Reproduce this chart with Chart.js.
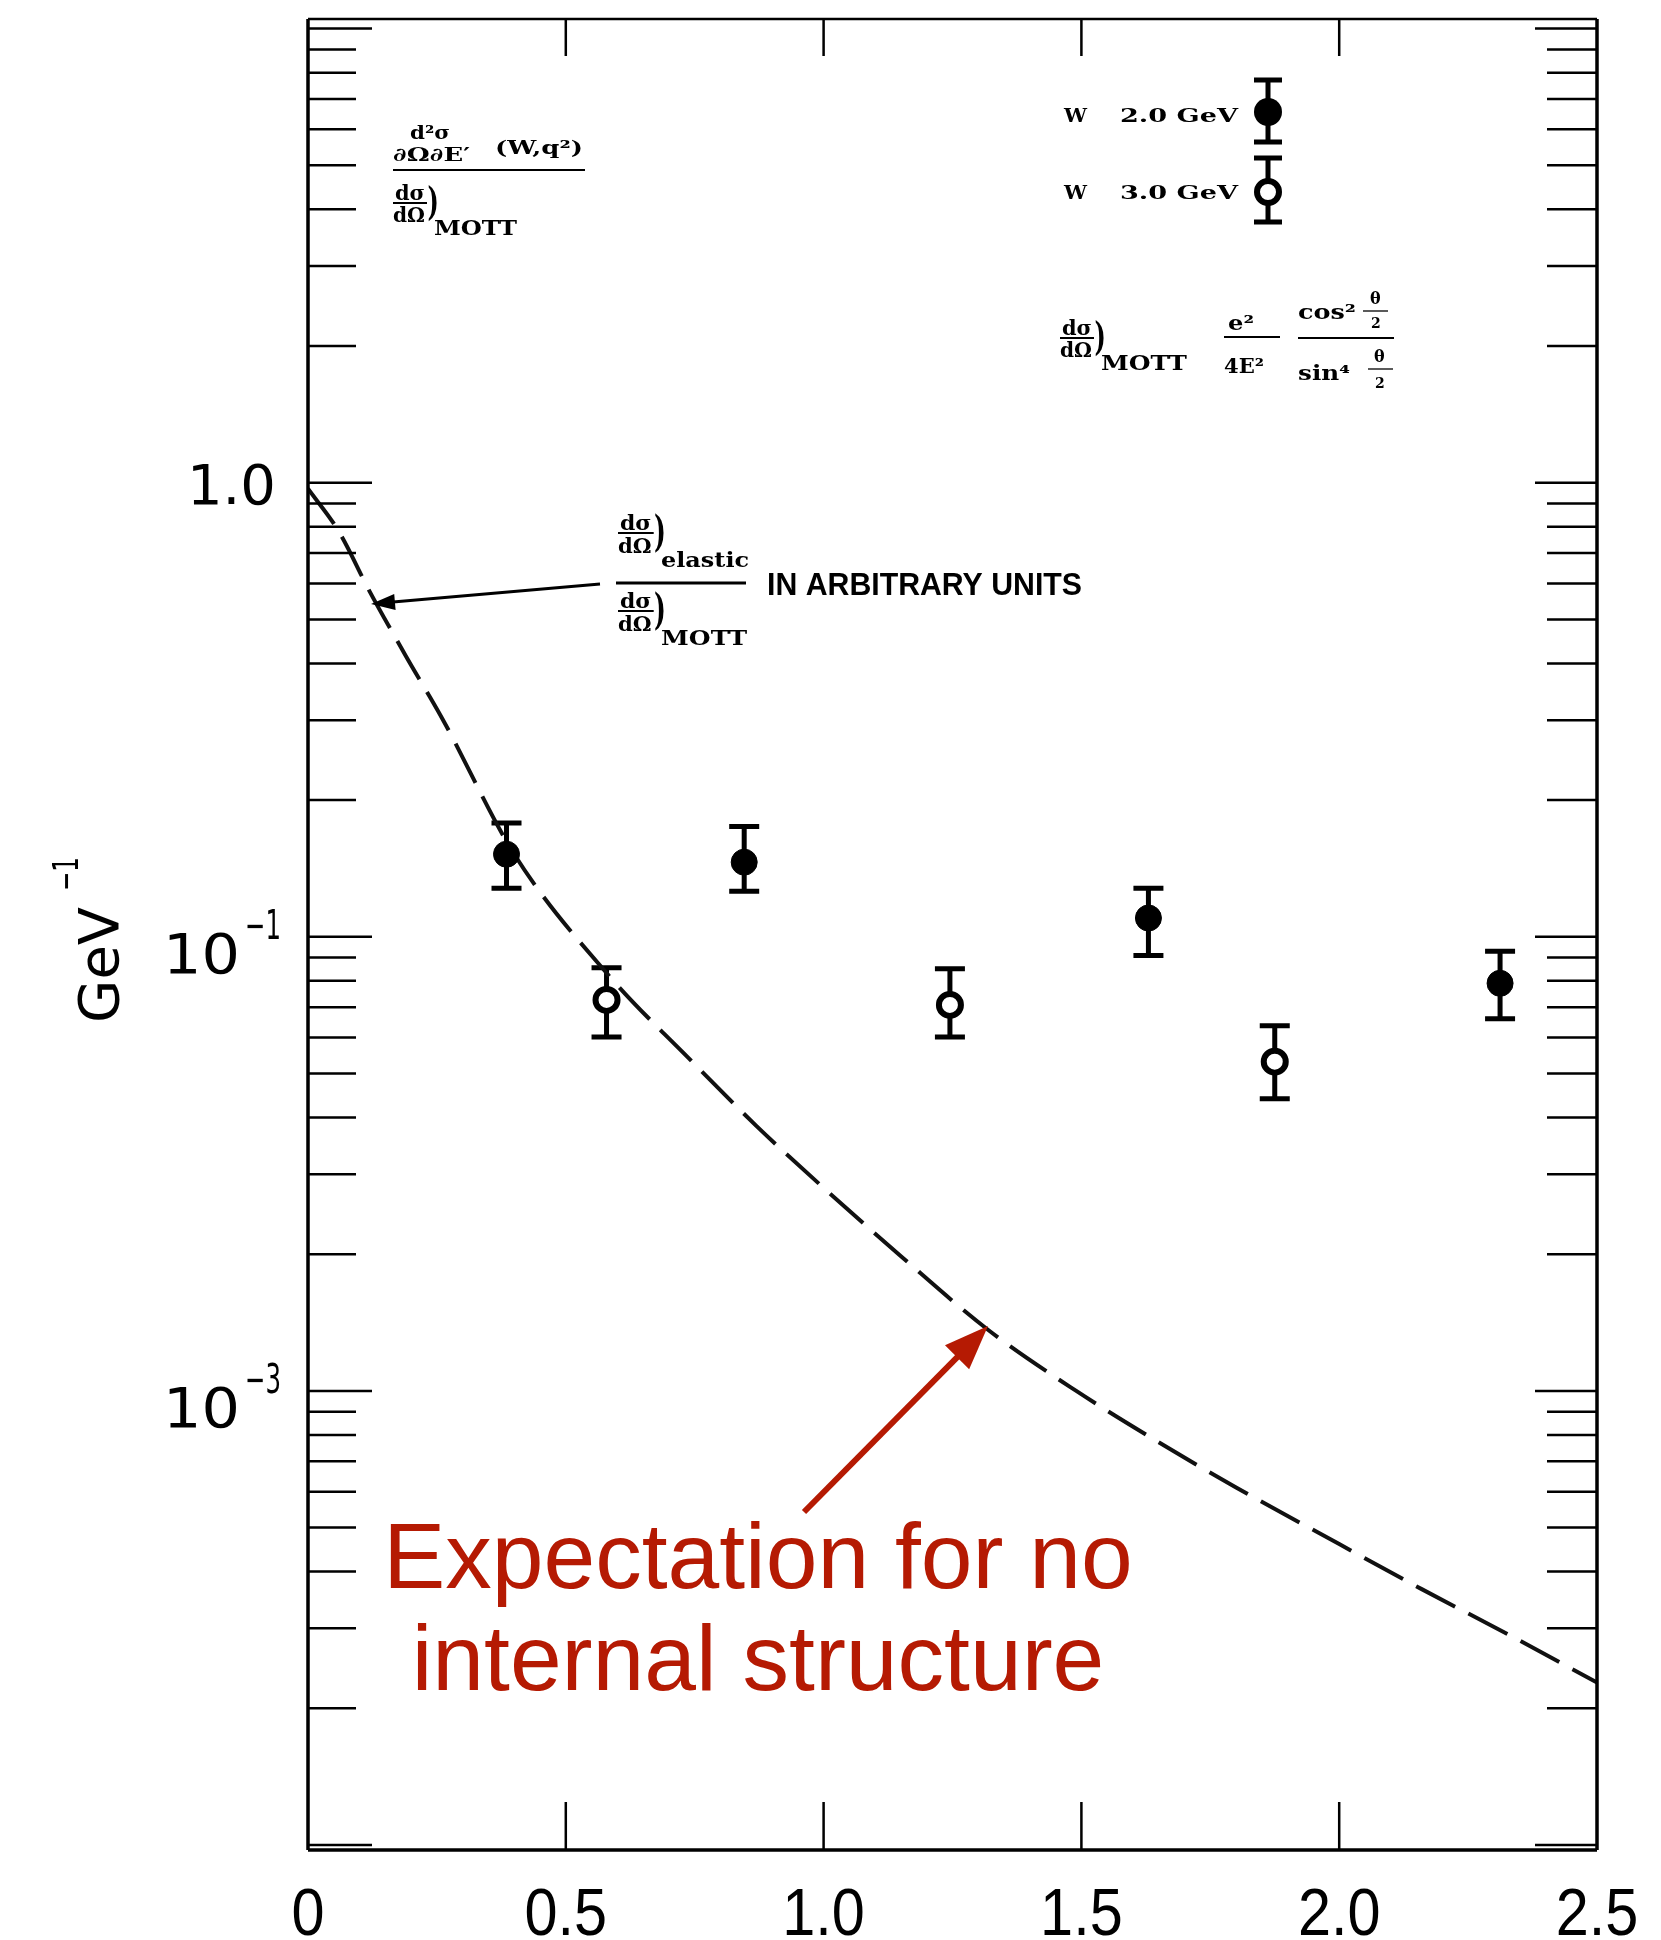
<!DOCTYPE html>
<html>
<head>
<meta charset="utf-8">
<title>Inelastic / Mott ratio vs q²</title>
<script src="https://cdn.jsdelivr.net/npm/chart.js@4.4.1/dist/chart.umd.min.js"></script>
<style>
  html, body { margin: 0; padding: 0; background: #fff; }
  #wrap { width: 1661px; height: 1940px; }
</style>
</head>
<body>
<div id="wrap"><canvas id="ratioChart" width="1661" height="1940"></canvas></div>
<script>
// --- axis ticks ---
const xTicks = [0, 0.5, 1.0, 1.5, 2.0, 2.5];
const xTickLabels = ['0', '0.5', '1.0', '1.5', '2.0', '2.5'];
const yTicks = [1, 0.1, 0.01];
const yTickBase = ['1.0', '10', '10'];
const yTickExp = ['', '\u22121', '\u22123'];
const yMin = 0.000975;
const yMax = 10.5;

// --- W = 2.0 GeV (filled circles) ---
const w2X  = [0.385, 0.846, 1.630, 2.312];
const w2Y  = [0.152, 0.146, 0.110, 0.079];
const w2Lo = [0.128, 0.126, 0.091, 0.066];
const w2Hi = [0.178, 0.175, 0.128, 0.093];

// --- W = 3.0 GeV (open circles) ---
const w3X  = [0.579, 1.245, 1.875];
const w3Y  = [0.0726, 0.0708, 0.0531];
const w3Lo = [0.0602, 0.0602, 0.0440];
const w3Hi = [0.0855, 0.0850, 0.0637];

// --- elastic / Mott, arbitrary units (dashed) ---
const elasticX = [0, 0.06, 0.12, 0.19, 0.26, 0.40, 0.58, 0.75, 0.87, 1.0, 1.15, 1.32, 1.49, 1.64, 1.80, 2.0, 2.16, 2.33, 2.5];
const elasticY = [0.97, 0.78, 0.575, 0.415, 0.303, 0.152, 0.083, 0.0524, 0.0383, 0.028, 0.0198, 0.0136, 0.0100, 0.00783, 0.00613, 0.0046, 0.00366, 0.0029, 0.00228];

const toPts = (xs, ys) => xs.map((x, i) => ({ x: x, y: ys[i] }));

const SERIF = '"DejaVu Serif", "Liberation Serif", serif';

function txt(ctx, s, x, y, font, opts) {
    opts = opts || {};
    ctx.save();
    ctx.font = font;
    ctx.fillStyle = opts.color || '#000';
    ctx.textAlign = opts.align || 'left';
    ctx.textBaseline = opts.baseline || 'alphabetic';
    ctx.translate(x, y);
    let sx = opts.sx || 1;
    if (opts.width) sx = opts.width / ctx.measureText(s).width;
    ctx.scale(sx, 1);
    ctx.fillText(s, 0, 0);
    ctx.restore();
}

function hline(ctx, x1, x2, y, w) {
    ctx.beginPath();
    ctx.lineWidth = w || 2;
    ctx.moveTo(x1, y);
    ctx.lineTo(x2, y);
    ctx.stroke();
}

// stacked "dσ over dΩ)" with a subscript
function dsig(ctx, x, yMid, size, sub, subW) {
    const f = 'bold ' + size + 'px ' + SERIF;
    txt(ctx, 'd\u03c3', x + 2, yMid - 3, f, { width: size * 1.5 });
    hline(ctx, x, x + size * 1.7, yMid, 1.8);
    txt(ctx, 'd\u03a9', x, yMid + size - 1, f, { width: size * 1.6 });
    txt(ctx, ')', x + size * 1.72, yMid + size * 0.6, 'bold ' + (size * 2) + 'px ' + SERIF, { sx: 0.6 });
    if (sub) txt(ctx, sub, x + size * 2.05, yMid + size * 1.6, 'bold ' + size + 'px ' + SERIF, { width: subW });
}

function arrow(ctx, x1, y1, x2, y2, color, w, headLen, headW) {
    const a = Math.atan2(y2 - y1, x2 - x1);
    ctx.save();
    ctx.strokeStyle = color;
    ctx.fillStyle = color;
    ctx.lineWidth = w;
    ctx.beginPath();
    ctx.moveTo(x1, y1);
    ctx.lineTo(x2 - Math.cos(a) * headLen * 0.8, y2 - Math.sin(a) * headLen * 0.8);
    ctx.stroke();
    ctx.beginPath();
    ctx.moveTo(x2, y2);
    ctx.lineTo(x2 - Math.cos(a) * headLen + Math.sin(a) * headW, y2 - Math.sin(a) * headLen - Math.cos(a) * headW);
    ctx.lineTo(x2 - Math.cos(a) * headLen - Math.sin(a) * headW, y2 - Math.sin(a) * headLen + Math.cos(a) * headW);
    ctx.closePath();
    ctx.fill();
    ctx.restore();
}

function errBar(ctx, px, pLo, pHi, cap) {
    ctx.beginPath();
    ctx.moveTo(px, pLo);
    ctx.lineTo(px, pHi);
    ctx.moveTo(px - cap, pLo);
    ctx.lineTo(px + cap, pLo);
    ctx.moveTo(px - cap, pHi);
    ctx.lineTo(px + cap, pHi);
    ctx.stroke();
}

// error bars under the markers
const errorBarPlugin = {
    id: 'errorBars',
    beforeDatasetsDraw(chart) {
        const ctx = chart.ctx, xs = chart.scales.x, ys = chart.scales.y;
        ctx.save();
        ctx.strokeStyle = '#000';
        ctx.lineWidth = 5;
        w2X.forEach((x, i) => errBar(ctx, xs.getPixelForValue(x), ys.getPixelForValue(w2Lo[i]), ys.getPixelForValue(w2Hi[i]), 15));
        w3X.forEach((x, i) => errBar(ctx, xs.getPixelForValue(x), ys.getPixelForValue(w3Lo[i]), ys.getPixelForValue(w3Hi[i]), 15));
        ctx.restore();
    }
};

// frame, inward tick marks, labels and notes
const framePlugin = {
    id: 'frame',
    afterDraw(chart) {
        const ctx = chart.ctx, xs = chart.scales.x, ys = chart.scales.y;
        const { left, right, top, bottom } = chart.chartArea;
        ctx.save();
        ctx.strokeStyle = '#000';
        ctx.lineCap = 'butt';

        // box
        hline(ctx, left, right, top, 2.5);
        hline(ctx, left, right, bottom, 3.5);
        ctx.lineWidth = 3.5;
        ctx.beginPath();
        ctx.moveTo(left, top); ctx.lineTo(left, bottom);
        ctx.moveTo(right, top); ctx.lineTo(right, bottom);
        ctx.stroke();

        // log ticks on both sides
        ctx.lineWidth = 2.5;
        for (let k = -4; k <= 1; k++) {
            for (let m = 1; m <= 9; m++) {
                const v = m * Math.pow(10, k);
                if (v < yMin || v > yMax) continue;
                const py = ys.getPixelForValue(v);
                const lenL = m === 1 ? 64 : 48;
                const lenR = m === 1 ? 62 : 50;
                ctx.beginPath();
                ctx.moveTo(left, py); ctx.lineTo(left + lenL, py);
                ctx.moveTo(right, py); ctx.lineTo(right - lenR, py);
                ctx.stroke();
            }
        }
        // x ticks top and bottom
        xTicks.slice(1, -1).forEach(v => {
            const px = xs.getPixelForValue(v);
            ctx.beginPath();
            ctx.moveTo(px, top); ctx.lineTo(px, top + 37);
            ctx.moveTo(px, bottom); ctx.lineTo(px, bottom - 48);
            ctx.stroke();
        });

        // x tick labels
        xTicks.forEach((v, i) => {
            txt(ctx, xTickLabels[i], xs.getPixelForValue(v), 1935, '66px "Liberation Sans Narrow", "Liberation Sans", sans-serif', { align: 'center', sx: 0.9 });
        });
        // y tick labels
        yTicks.forEach((v, i) => {
            const py = ys.getPixelForValue(v);
            const font = '56px "DejaVu Sans", sans-serif';
            if (!yTickExp[i]) {
                txt(ctx, yTickBase[i], 276, py + 21, font, { align: 'right' });
            } else {
                txt(ctx, yTickExp[i], 245, py + 2, '40px "DejaVu Sans", sans-serif', { width: 36 });
                txt(ctx, yTickBase[i], 240, py + 36, font, { align: 'right', sx: 1.08 });
            }
        });

        // y axis title
        ctx.save();
        ctx.translate(118, 955);
        ctx.rotate(-Math.PI / 2);
        txt(ctx, 'GeV', -68, 0, '56px "DejaVu Sans", sans-serif');
        txt(ctx, '\u22121', 64, -40, '36px "DejaVu Sans", sans-serif', { width: 34 });
        ctx.restore();

        // scanned formula labels
        ctx.save();
        ctx.filter = 'blur(0.7px)';
        ctx.fillStyle = '#000';
        ctx.strokeStyle = '#000';

        // top-left: d2sigma/dOmega dE' (W,q2) over Mott
        txt(ctx, 'd\u00b2\u03c3', 410, 139, 'bold 19px ' + SERIF, { width: 40 });
        txt(ctx, '\u2202\u03a9\u2202E\u2032', 393, 161, 'bold 19px ' + SERIF, { width: 77 });
        txt(ctx, '(W,q\u00b2)', 495, 154, 'bold 19px ' + SERIF, { width: 88 });
        hline(ctx, 393, 585, 170, 2.2);
        dsig(ctx, 393, 203, 20, 'MOTT', 83);

        // top-right legend
        txt(ctx, 'W', 1064, 122, 'bold 19px ' + SERIF, { width: 23 });
        txt(ctx, '2.0 GeV', 1120, 122, 'bold 19px ' + SERIF, { width: 118 });
        txt(ctx, 'W', 1064, 199, 'bold 19px ' + SERIF, { width: 23 });
        txt(ctx, '3.0 GeV', 1120, 199, 'bold 19px ' + SERIF, { width: 118 });

        // top-right Mott formula
        dsig(ctx, 1060, 338, 20, 'MOTT', 86);
        txt(ctx, 'e\u00b2', 1228, 330, 'bold 20px ' + SERIF, { width: 26 });
        hline(ctx, 1224, 1280, 337, 1.8);
        txt(ctx, '4E\u00b2', 1224, 373, 'bold 20px ' + SERIF, { width: 40 });
        txt(ctx, 'cos\u00b2', 1298, 319, 'bold 20px ' + SERIF, { width: 58 });
        txt(ctx, '\u03b8', 1370, 304, 'bold 16px ' + SERIF);
        hline(ctx, 1363, 1388, 311, 1.3);
        txt(ctx, '2', 1371, 328, 'bold 14px ' + SERIF);
        hline(ctx, 1298, 1394, 338, 1.8);
        txt(ctx, 'sin\u2074', 1298, 380, 'bold 20px ' + SERIF, { width: 52 });
        txt(ctx, '\u03b8', 1374, 362, 'bold 16px ' + SERIF);
        hline(ctx, 1368, 1393, 369, 1.3);
        txt(ctx, '2', 1375, 388, 'bold 14px ' + SERIF);

        // middle: elastic over Mott, arbitrary units
        dsig(ctx, 618, 533, 21, 'elastic', 88);
        hline(ctx, 616, 746, 583, 3);
        dsig(ctx, 618, 611, 21, 'MOTT', 86);
        txt(ctx, 'IN ARBITRARY UNITS', 767, 595, 'bold 31px "Liberation Sans Narrow", "Liberation Sans", sans-serif', { width: 315 });
        ctx.restore();

        // legend markers
        ctx.lineWidth = 5;
        errBar(ctx, 1268, 80, 142, 14);
        errBar(ctx, 1268, 158, 222, 14);
        ctx.beginPath();
        ctx.arc(1268, 112, 14, 0, Math.PI * 2);
        ctx.fillStyle = '#000';
        ctx.fill();
        ctx.beginPath();
        ctx.arc(1268, 192, 11, 0, Math.PI * 2);
        ctx.fillStyle = '#fff';
        ctx.fill();
        ctx.lineWidth = 6;
        ctx.stroke();

        // pointer to the elastic curve
        arrow(ctx, 600, 584, 371, 604, '#000', 3, 24, 8);

        // red note
        const red = '#b51a03';
        arrow(ctx, 804, 1512, 988, 1326, red, 6, 44, 17);
        txt(ctx, 'Expectation for no', 758, 1588, '93px "Liberation Sans", Arial, sans-serif', { align: 'center', color: red });
        txt(ctx, 'internal structure', 758, 1690, '93px "Liberation Sans", Arial, sans-serif', { align: 'center', color: red });

        ctx.restore();
    }
};

const ctx = document.getElementById('ratioChart').getContext('2d');
new Chart(ctx, {
    type: 'scatter',
    data: {
        datasets: [
            {
                label: 'elastic / Mott',
                type: 'line',
                data: toPts(elasticX, elasticY),
                borderColor: '#111',
                borderWidth: 4,
                borderDash: [44, 15],
                pointRadius: 0,
                fill: false,
                cubicInterpolationMode: 'monotone',
                order: 2
            },
            {
                label: 'W 2.0 GeV',
                data: toPts(w2X, w2Y),
                pointRadius: 13,
                pointBackgroundColor: '#000',
                pointBorderColor: '#000',
                pointBorderWidth: 1,
                order: 0
            },
            {
                label: 'W 3.0 GeV',
                data: toPts(w3X, w3Y),
                pointRadius: 11,
                pointBackgroundColor: '#fff',
                pointBorderColor: '#000',
                pointBorderWidth: 6,
                order: 0
            }
        ]
    },
    options: {
        responsive: false,
        animation: false,
        layout: { padding: { left: 308, right: 64, top: 19, bottom: 90 } },
        scales: {
            x: { type: 'linear', display: false, min: 0, max: 2.5 },
            y: { type: 'logarithmic', display: false, min: yMin, max: yMax }
        },
        plugins: {
            legend: { display: false },
            tooltip: { enabled: false }
        }
    },
    plugins: [errorBarPlugin, framePlugin]
});
</script>
</body>
</html>
